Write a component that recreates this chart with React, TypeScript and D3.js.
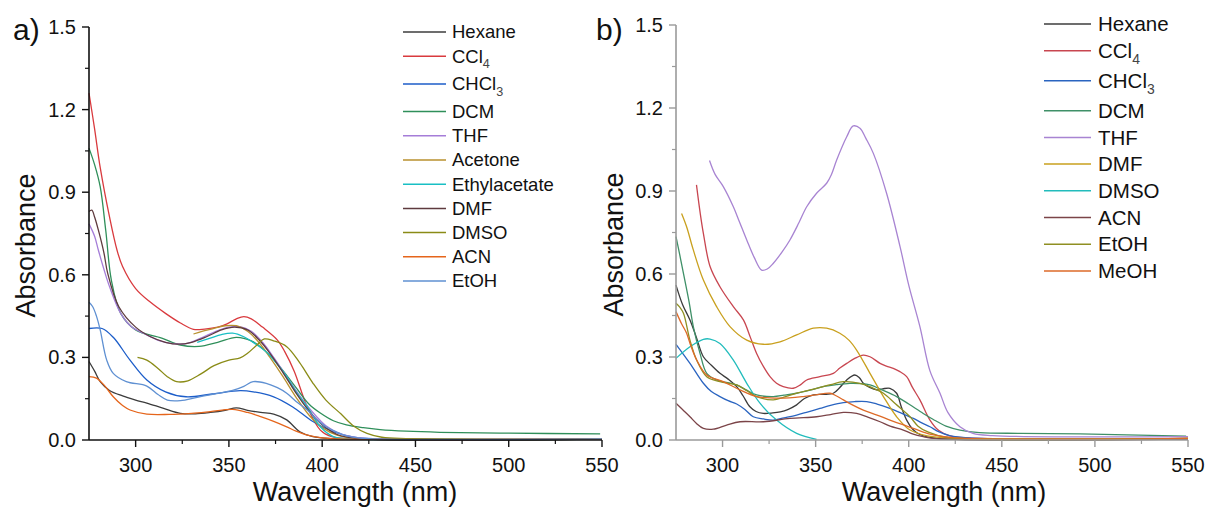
import React from 'react';
import * as d3 from 'd3';

type Pt = [number, number];

// ---------- Panel a data (wavelength nm, absorbance) ----------
const aHexane: Pt[] = [[275,0.285],[278,0.25],[281,0.212],[286,0.18],[293,0.16],[300,0.145],[306,0.134],[315,0.115],[324,0.097],[332,0.095],[340,0.1],[348,0.108],[354,0.117],[360,0.108],[367,0.1],[374,0.094],[381,0.073],[388,0.03],[395,0.012],[405,0.005],[420,0.004],[550,0.003]];
const aCCl4: Pt[] = [[275,1.26],[278,1.13],[281,0.99],[286,0.81],[290,0.69],[293,0.63],[300,0.55],[308,0.5],[316,0.46],[324,0.425],[331,0.402],[337,0.403],[344,0.41],[349,0.422],[354,0.44],[358,0.448],[362,0.44],[368,0.41],[376,0.363],[380,0.32],[385,0.25],[392,0.12],[399,0.036],[405,0.012],[415,0.005],[550,0.003]];
const aCHCl3: Pt[] = [[275,0.405],[282,0.405],[288,0.373],[297,0.29],[306,0.218],[316,0.175],[327,0.157],[341,0.167],[356,0.179],[363,0.175],[374,0.157],[384,0.121],[395,0.067],[406,0.03],[417,0.01],[430,0.004],[550,0.003]];
const aDCM: Pt[] = [[275,1.06],[278,1.0],[281,0.92],[284,0.76],[287,0.58],[292,0.46],[300,0.4],[314,0.37],[324,0.345],[334,0.34],[344,0.355],[354,0.373],[362,0.36],[370,0.32],[378,0.26],[386,0.19],[393,0.13],[399,0.098],[406,0.07],[413,0.055],[422,0.045],[431,0.038],[445,0.032],[463,0.028],[500,0.025],[549,0.022]];
const aTHF: Pt[] = [[275,0.785],[278,0.74],[280,0.69],[283,0.62],[286,0.557],[292,0.46],[298,0.41],[305,0.385],[313,0.36],[320,0.35],[327,0.35],[335,0.37],[343,0.395],[350,0.41],[356,0.412],[362,0.395],[368,0.355],[374,0.3],[381,0.23],[388,0.16],[395,0.1],[402,0.052],[410,0.022],[420,0.008],[550,0.004]];
const aAcetone: Pt[] = [[331,0.385],[336,0.395],[342,0.405],[348,0.415],[354,0.415],[360,0.395],[366,0.355],[372,0.3],[379,0.23],[386,0.155],[393,0.09],[400,0.045],[408,0.018],[418,0.006],[550,0.003]];
const aEthylacetate: Pt[] = [[333,0.355],[340,0.37],[346,0.383],[352,0.388],[358,0.375],[364,0.35],[370,0.32],[376,0.275],[381,0.23],[386,0.175],[392,0.121],[399,0.048],[406,0.012],[415,0.004],[550,0.003]];
const aDMF: Pt[] = [[275,0.83],[276.5,0.835],[278,0.81],[280,0.763],[283,0.68],[285,0.606],[291,0.484],[300,0.41],[308,0.375],[316,0.355],[323,0.348],[330,0.355],[338,0.375],[346,0.4],[353,0.41],[360,0.4],[366,0.365],[372,0.315],[379,0.245],[386,0.17],[393,0.105],[400,0.055],[408,0.02],[418,0.006],[550,0.003]];
const aDMSO: Pt[] = [[301,0.3],[306,0.29],[312,0.26],[317,0.23],[322,0.212],[328,0.215],[335,0.24],[342,0.27],[350,0.29],[356,0.298],[360,0.315],[365,0.345],[369,0.367],[374,0.36],[381,0.339],[388,0.28],[395,0.207],[402,0.145],[410,0.095],[417,0.05],[424,0.024],[432,0.01],[445,0.005],[550,0.003]];
const aACN: Pt[] = [[275,0.23],[279,0.225],[283,0.2],[288,0.157],[293,0.125],[297,0.109],[306,0.094],[318,0.093],[330,0.097],[340,0.103],[352,0.111],[360,0.1],[367,0.085],[374,0.068],[381,0.048],[386,0.032],[392,0.018],[400,0.008],[410,0.004],[550,0.003]];
const aEtOH: Pt[] = [[275,0.5],[277,0.484],[279,0.45],[281,0.4],[284.5,0.29],[288,0.242],[295,0.212],[306,0.196],[312,0.165],[317,0.145],[324,0.143],[333,0.155],[342,0.167],[352,0.18],[358,0.195],[363,0.212],[370,0.206],[376,0.19],[381,0.17],[386,0.14],[392,0.109],[397,0.075],[402,0.048],[408,0.028],[413,0.015],[420,0.007],[550,0.004]];

const aNames = ['Hexane', 'CCl_4', 'CHCl_3', 'DCM', 'THF', 'Acetone', 'Ethylacetate', 'DMF', 'DMSO', 'ACN', 'EtOH'];
const aData = [aHexane, aCCl4, aCHCl3, aDCM, aTHF, aAcetone, aEthylacetate, aDMF, aDMSO, aACN, aEtOH];
const aColors = ['#3c3c3c', '#d93a3e', '#1c5dc9', '#2f8f5a', '#a57dd8', '#b8912e', '#19bfc4', '#5e3a3e', '#8a8b16', '#e5651b', '#5f90d2'];

// ---------- Panel b data ----------
const bHexane: Pt[] = [[275,0.56],[278.5,0.49],[282.5,0.434],[286,0.37],[289.7,0.301],[294,0.27],[298.6,0.241],[303,0.22],[307.6,0.193],[311,0.16],[314.7,0.12],[318,0.103],[321.9,0.096],[327,0.098],[331,0.102],[335,0.11],[339.8,0.127],[344,0.15],[348.8,0.163],[354,0.165],[359.5,0.169],[363,0.19],[366.7,0.217],[371,0.235],[373.5,0.225],[375.6,0.205],[379,0.19],[382.8,0.181],[386,0.185],[389.9,0.187],[393.5,0.169],[396,0.12],[398.9,0.072],[402,0.04],[406,0.02],[415,0.006],[550,0.004]];
const bCCl4: Pt[] = [[286,0.922],[288,0.82],[289.7,0.747],[293.3,0.627],[298.6,0.554],[305.8,0.482],[311.2,0.434],[315,0.37],[318.3,0.313],[322,0.265],[325.5,0.229],[329,0.205],[332.6,0.193],[338,0.187],[342,0.2],[345.2,0.217],[352.3,0.229],[359.5,0.241],[363,0.26],[366.7,0.277],[371,0.295],[375.6,0.307],[379.2,0.301],[384.6,0.277],[388,0.267],[391.7,0.259],[395,0.248],[398.9,0.229],[402,0.19],[406,0.145],[411.4,0.072],[416,0.035],[422,0.015],[432,0.008],[550,0.006]];
const bCHCl3: Pt[] = [[275,0.346],[282.5,0.277],[289.7,0.205],[294,0.175],[298.6,0.157],[303,0.142],[307.6,0.13],[312,0.11],[316.5,0.084],[322,0.076],[327.3,0.072],[333,0.08],[339.8,0.09],[346,0.102],[352.3,0.114],[358,0.125],[364.9,0.135],[371,0.139],[377.4,0.139],[383,0.13],[389.9,0.114],[396,0.097],[402.5,0.078],[407,0.062],[411.4,0.048],[416,0.03],[422,0.016],[432,0.008],[550,0.006]];
const bDCM: Pt[] = [[275,0.735],[277,0.67],[279,0.602],[282,0.5],[284.3,0.41],[287.9,0.313],[291.5,0.241],[296.8,0.217],[302,0.208],[307.6,0.199],[313,0.18],[318.3,0.163],[327.3,0.157],[333,0.162],[339.8,0.169],[347,0.18],[354.1,0.193],[361,0.2],[368.4,0.205],[374,0.204],[379.2,0.199],[386,0.18],[393.5,0.157],[400,0.13],[407.8,0.096],[413,0.075],[420,0.05],[427.5,0.036],[438,0.027],[460,0.024],[492,0.022],[549,0.014]];
const bTHF: Pt[] = [[293,1.01],[296,0.96],[300.4,0.916],[305.8,0.843],[309,0.79],[313,0.723],[317,0.66],[321,0.614],[324,0.618],[327.3,0.639],[332,0.68],[336.2,0.723],[341,0.785],[345.2,0.843],[350.5,0.892],[355.9,0.928],[358.5,0.96],[361.3,1.012],[366.7,1.096],[370.2,1.135],[373.8,1.127],[377,1.09],[381,1.036],[388.1,0.892],[395.3,0.7],[400,0.56],[406,0.41],[411.4,0.25],[416.8,0.169],[421,0.1],[427.5,0.048],[434.5,0.024],[445,0.016],[550,0.012]];
const bDMF: Pt[] = [[278,0.819],[280.7,0.771],[284.3,0.687],[289.7,0.578],[296.8,0.482],[304,0.41],[313,0.361],[321.9,0.346],[330.9,0.355],[339.8,0.38],[348.8,0.404],[355.9,0.404],[363,0.386],[368,0.36],[372,0.325],[379.2,0.241],[386.4,0.157],[393.5,0.084],[400.7,0.036],[410,0.015],[420,0.008],[550,0.006]];
const bDMSO: Pt[] = [[275,0.295],[282.5,0.337],[289.7,0.364],[293.3,0.365],[298.6,0.349],[305.8,0.289],[313,0.205],[320.1,0.133],[329,0.072],[339.8,0.024],[350.5,0.002]];
const bACN: Pt[] = [[275,0.133],[278.5,0.11],[282.5,0.084],[286,0.06],[289.7,0.042],[295,0.039],[302.2,0.054],[309.4,0.066],[321.9,0.066],[336.2,0.078],[350.5,0.084],[358,0.092],[364.9,0.1],[372,0.096],[378,0.083],[384.6,0.066],[390,0.05],[397.1,0.036],[402,0.022],[407.8,0.012],[415,0.005],[550,0.003]];
const bEtOH: Pt[] = [[275,0.494],[277,0.48],[279,0.458],[282.5,0.361],[286.1,0.289],[291.5,0.229],[298.6,0.211],[307.6,0.199],[313,0.178],[318.3,0.157],[327.3,0.145],[333,0.155],[339.8,0.169],[350.5,0.187],[358,0.2],[364.9,0.211],[373.8,0.205],[380,0.19],[386.4,0.169],[393,0.13],[400.7,0.084],[405,0.05],[410,0.03],[420,0.01],[550,0.006]];
const bMeOH: Pt[] = [[275,0.464],[278,0.42],[280.7,0.386],[283,0.34],[286.1,0.289],[291.5,0.235],[300.4,0.211],[309.4,0.181],[318.3,0.157],[330.9,0.151],[343.4,0.157],[350,0.163],[357.7,0.169],[361,0.16],[364.9,0.145],[370,0.126],[375.6,0.108],[383,0.09],[389.9,0.072],[396,0.057],[402.5,0.042],[412,0.02],[425,0.008],[550,0.006]];

const bNames = ['Hexane', 'CCl_4', 'CHCl_3', 'DCM', 'THF', 'DMF', 'DMSO', 'ACN', 'EtOH', 'MeOH'];
const bData = [bHexane, bCCl4, bCHCl3, bDCM, bTHF, bDMF, bDMSO, bACN, bEtOH, bMeOH];
const bColors = ['#3c3c3c', '#c84650', '#2a64c0', '#3f9068', '#a884d2', '#c9a01e', '#22bcbc', '#7b4448', '#8f8f22', '#dd6a28'];

// ---------- axes ----------
const xDomain: [number, number] = [275, 550];
const yDomain: [number, number] = [0, 1.5];
const xTicks = [300, 350, 400, 450, 500, 550];
const xMinorTicks = [325, 375, 425, 475, 525];
const yTicks = [0, 0.3, 0.6, 0.9, 1.2, 1.5];
const yMinorTicks = [0.15, 0.45, 0.75, 1.05, 1.35];

const FONT = 'Liberation Sans, Arial, sans-serif';

interface PanelProps {
  left: number; right: number; top: number; bottom: number;
  data: Pt[][]; names: string[]; colors: string[];
  axisColor: string; tag: string; tagX: number; titleX: number; titleCenter: number;
  legLineX0: number; legLineX1: number; legTextX: number; legY0: number; legStep: number; legGap: number; legFont: number;
}

function LegendLabel({ name, x, y, fs }: { name: string; x: number; y: number; fs: number }) {
  const [main, sub] = name.split('_');
  return (
    <text x={x} y={y + fs * 0.35} fontSize={fs} fontFamily={FONT} fill="#111">
      {main}
      {sub && <tspan dy={fs * 0.3} fontSize={fs * 0.68} fill="#444">{sub}</tspan>}
    </text>
  );
}

function Panel(p: PanelProps) {
  const x = d3.scaleLinear().domain(xDomain).range([p.left, p.right]);
  const y = d3.scaleLinear().domain(yDomain).range([p.bottom, p.top]);
  const line = d3.line<Pt>().x(d => x(d[0])).y(d => y(d[1])).curve(d3.curveCatmullRom.alpha(0.5));
  const fmt = d3.format('.1f');
  const legY = (i: number) => p.legY0 + i * p.legStep + (i >= 2 ? p.legGap : 0) + (i >= 3 ? p.legGap : 0);
  return (
    <g>
      {p.data.map((d, i) => (
        <path key={i} d={line(d) || ''} fill="none" stroke={p.colors[i]} strokeWidth={1.3} strokeLinejoin="round" />
      ))}
      <line x1={p.left} x2={p.left} y1={p.top} y2={p.bottom} stroke={p.axisColor} strokeWidth={1.6} />
      <line x1={p.left} x2={p.right} y1={p.bottom} y2={p.bottom} stroke={p.axisColor} strokeWidth={1.6} />
      {xTicks.map(t => (
        <g key={'xt' + t}>
          <line x1={x(t)} x2={x(t)} y1={p.bottom} y2={p.bottom + 7} stroke={p.axisColor} strokeWidth={1.4} />
          <text x={x(t)} y={p.bottom + 32} textAnchor="middle" fontSize={20} fontFamily={FONT} fill="#111">{t}</text>
        </g>
      ))}
      {xMinorTicks.map(t => (
        <line key={'xm' + t} x1={x(t)} x2={x(t)} y1={p.bottom} y2={p.bottom + 4} stroke={p.axisColor} strokeWidth={1.2} />
      ))}
      {yTicks.map(t => (
        <g key={'yt' + t}>
          <line x1={p.left - 7} x2={p.left} y1={y(t)} y2={y(t)} stroke={p.axisColor} strokeWidth={1.4} />
          <text x={p.left - 13} y={y(t) + 7} textAnchor="end" fontSize={20} fontFamily={FONT} fill="#111">{fmt(t)}</text>
        </g>
      ))}
      {yMinorTicks.map(t => (
        <line key={'ym' + t} x1={p.left - 4} x2={p.left} y1={y(t)} y2={y(t)} stroke={p.axisColor} strokeWidth={1.2} />
      ))}
      <text x={p.titleCenter} y={501} textAnchor="middle" fontSize={27} fontFamily={FONT} fill="#111">Wavelength (nm)</text>
      <text transform={`translate(${p.titleX},${(p.top + p.bottom) / 2 + 12}) rotate(-90)`} textAnchor="middle" fontSize={27} fontFamily={FONT} fill="#111">Absorbance</text>
      <text x={p.tagX} y={40} fontSize={30} fontFamily={FONT} fill="#111">{p.tag}</text>
      {p.names.map((n, i) => (
        <g key={'lg' + i}>
          <line x1={p.legLineX0} x2={p.legLineX1} y1={legY(i)} y2={legY(i)} stroke={p.colors[i]} strokeWidth={1.5} />
          <LegendLabel name={n} x={p.legTextX} y={legY(i)} fs={p.legFont} />
        </g>
      ))}
    </g>
  );
}

export default function App() {
  return (
    <svg width={1209} height={509} style={{ position: 'absolute', left: 0, top: 0, background: '#fff' }}>
      <rect width={1209} height={509} fill="#fff" />
      <Panel left={89} right={602} top={27} bottom={440}
        data={aData} names={aNames} colors={aColors} axisColor="#111"
        tag="a)" tagX={13} titleX={35} titleCenter={355}
        legLineX0={403} legLineX1={446} legTextX={452} legY0={32} legStep={24.2} legGap={3.5} legFont={18.5} />
      <Panel left={676} right={1188} top={25} bottom={440}
        data={bData} names={bNames} colors={bColors} axisColor="#9a9a9a"
        tag="b)" tagX={596} titleX={623} titleCenter={944}
        legLineX0={1044} legLineX1={1091} legTextX={1098} legY0={24} legStep={26.7} legGap={3.3} legFont={20.5} />
    </svg>
  );
}
